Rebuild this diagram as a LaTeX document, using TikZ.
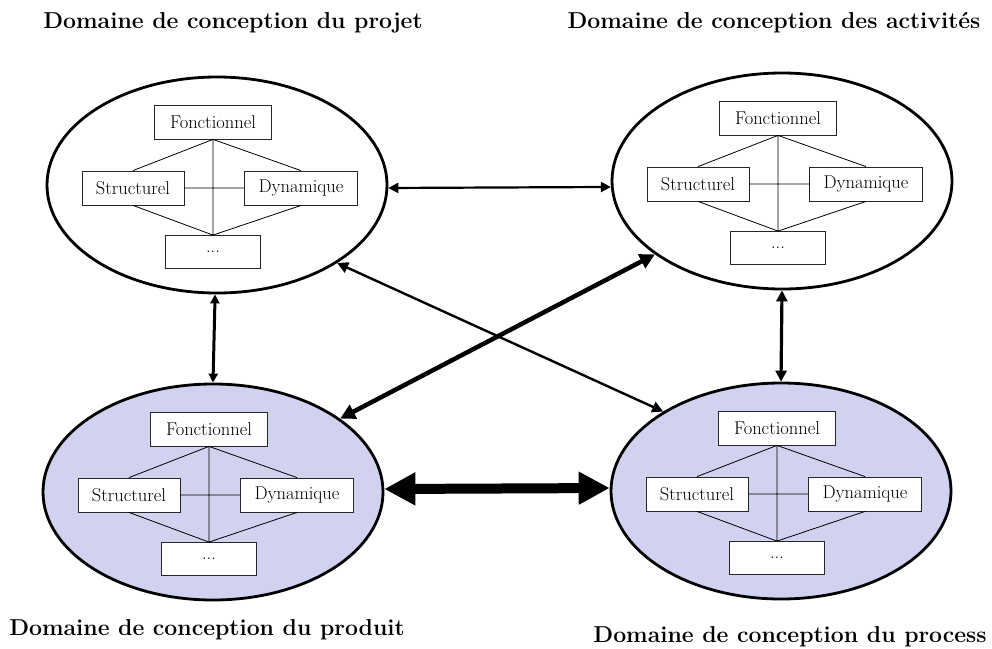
\documentclass[tikz,border=0pt]{standalone}
\usepackage{tikz}
\usetikzlibrary{arrows.meta}
\usetikzlibrary{calc}
\usetikzlibrary{shapes.geometric}
\definecolor{prodblue}{RGB}{208,210,240}
\tikzstyle{dom}=[ellipse,draw,line width=2.8pt,minimum width=340pt,minimum height=216pt,inner sep=0pt]
\tikzstyle{part}=[draw=black!85,fill=white,line width=.8pt,inner sep=0pt,minimum height=34pt,font=\fontsize{18.5}{20}\selectfont]
\tikzstyle{tie}=[line width=.8pt]
\tikzstyle{domtitle}=[font=\fontsize{23}{26}\selectfont\bfseries,anchor=base]
\tikzset{link/.style 2 args={line width=#1,<->,>/.tip={Triangle[length=#2,width=#2]}}}
% the four views inside one domain
\newcommand\domain[1]{%
  \node[part,minimum width=117pt] (#1-f) at ($(#1)+(-4,-63)$) {Fonctionnel};
  \node[part,minimum width=102pt] (#1-s) at ($(#1)+(-84,3)$) {Structurel};
  \node[part,minimum width=113pt] (#1-d) at ($(#1)+(84,3)$) {Dynamique};
  \node[part,minimum width=95pt,minimum height=33pt] (#1-x) at ($(#1)+(-4,67)$) {...};
  \draw[tie] (#1-f.south) -- (#1-x.north) (#1-s.east) -- (#1-d.west)
    (#1-s.north) -- (#1-f.south) -- (#1-d.north)
    (#1-s.south) -- (#1-x.north) -- (#1-d.south);
}
\begin{document}
\begin{tikzpicture}[x=1pt,y=-1pt]
	\useasboundingbox (0,0) rectangle (992,648);
	\node[dom] (tl) at (217,185) {};
	\node[dom] (tr) at (782,181) {};
	\node[dom,fill=prodblue] (bl) at (213,492) {};
	\node[dom,fill=prodblue] (br) at (781,491) {};
	\domain{tl} \domain{tr} \domain{bl} \domain{br}
	% titles
	\node[domtitle] (tl-t) at (233,28) {Domaine de conception du projet};
	\node[domtitle] (tr-t) at (774,28) {Domaine de conception des activit\'es};
	\node[domtitle] (bl-t) at (207,635) {Domaine de conception du produit};
	\node[domtitle] (br-t) at (790,642) {Domaine de conception du process};
	% links between domains
	\draw[link={2.2pt}{10pt}] (tl.-1) -- (tr.182);
	\draw[link={3pt}{9pt}] (tl.-91) -- (bl.north);
	\draw[link={3.2pt}{11pt}] (tr.south) -- (br.north);
	\draw[link={2.4pt}{11pt}] (tl.-33.5) -- (br.146);
	\draw[link={4.5pt}{15pt}] (bl.30.5) -- (tr.-150);
	\draw[link={10pt}{31pt}] (bl.1) -- (br.179);
\end{tikzpicture}
\end{document}
